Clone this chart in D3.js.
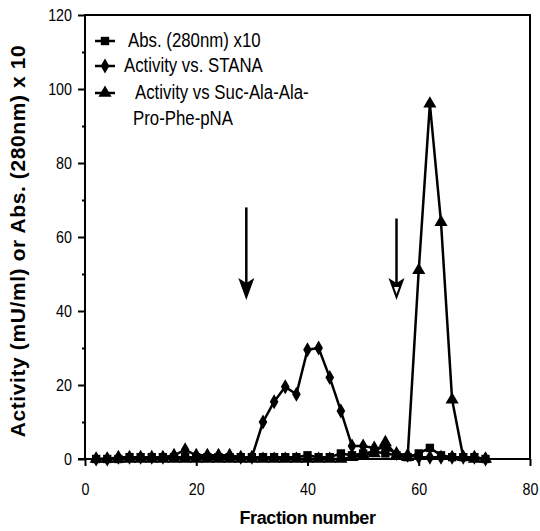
<!DOCTYPE html>
<meta charset="utf-8">
<style>
body { margin: 0; background: #fff; }
text { font-family: "Liberation Sans", Arial, Helvetica, sans-serif; fill: #000; }
.title { font-weight: bold; }
.line { fill: none; stroke: #000; stroke-width: 2.5px; stroke-linejoin: round; }
</style>
<body>
<script src="https://d3js.org/d3.v7.min.js"></script>
<script>

// fractions sampled every 2
var fractions = [2, 4, 6, 8, 10, 12, 14, 16, 18, 20, 22, 24, 26, 28, 30, 32, 34, 36,
                 38, 40, 42, 44, 46, 48, 50, 52, 54, 56, 58, 60, 62, 64, 66, 68, 70, 72];

// Abs. (280nm) x10
var absorbance = [0, 0, 0, 0.5, 0.5, 0.5, 0.5, 0.5, 0.5, 0.5, 0.5, 0.5, 0.5, 0.5, 0.5, 0.5, 0.5, 0.5,
                  0.5, 1, 0.5, 0.5, 1.5, 1, 1.5, 2, 1.5, 1, 0.5, 1.5, 3, 1, 0.5, 0.5, 0.5, 0];

// Activity vs. STANA
var stana = [0, 0, 0.5, 0.5, 0.5, 0.5, 0.5, 1, 2.5, 1, 1, 1, 1, 0.5, 0.5, 10, 15.5, 19.5,
             17.5, 29.5, 30, 22, 13, 3.5, 3.5, 3, 3, 1.5, 1, 0.5, 0.5, 0.5, 0.5, 0.5, 0.5, 0];

// Activity vs Suc-Ala-Ala-Pro-Phe-pNA
var sucAAPF = [0, 0, 0, 0, 0, 0, 0, 0, 0, 0, 0, 0, 0, 0, 0, 0, 0, 0,
               0, 0, 0, 0, 0, 0.5, 1, 1.5, 4.5, 1, 0.5, 51, 96, 64, 16, 0.5, 0, 0];

var legendLabels = ["Abs. (280nm) x10", "Activity vs. STANA", "Activity vs Suc-Ala-Ala-", "Pro-Phe-pNA"];
var xTicks = [0, 20, 40, 60, 80];
var yTicks = [0, 20, 40, 60, 80, 100, 120];

// arrows: fraction, top value, tip value
var arrows = [
  {fraction: 29, from: 68, to: 43, open: false},
  {fraction: 56, from: 65, to: 43, open: true}
];

var width = 540, height = 531;
var margin = {top: 15, right: 10, bottom: 72, left: 85};
var w = width - margin.left - margin.right,
    h = height - margin.top - margin.bottom;

var x = d3.scaleLinear().domain([0, 80]).range([0, w]);
var y = d3.scaleLinear().domain([0, 120]).range([h, 0]);

var svg = d3.select("body").append("svg")
    .attr("width", width)
    .attr("height", height)
  .append("g")
    .attr("transform", "translate(" + margin.left + "," + margin.top + ")");

// frame
svg.append("rect")
    .attr("x", 0).attr("y", 0)
    .attr("width", w).attr("height", h)
    .attr("fill", "none")
    .attr("stroke", "#000")
    .attr("stroke-width", 2);

// axes
var xAxis = svg.append("g")
    .attr("transform", "translate(0," + h + ")")
    .call(d3.axisBottom(x).tickValues(xTicks).tickSize(7).tickPadding(17));
var yAxis = svg.append("g")
    .call(d3.axisLeft(y).tickValues(yTicks).tickSize(7).tickPadding(6));
svg.append("g")
    .call(d3.axisLeft(y).tickValues(d3.range(10, 120, 20)).tickSize(3).tickFormat(""));

[xAxis, yAxis].forEach(function(a) {
  a.selectAll("text")
      .attr("class", "narrow")
      .attr("font-size", "17px")
      .style("font-family", null);
});
svg.selectAll(".tick line").attr("stroke", "#000").attr("stroke-width", 2);
svg.selectAll(".domain").remove();
// y=0 tick crosses the axis
svg.append("line")
    .attr("x1", -7).attr("x2", 6)
    .attr("y1", y(0)).attr("y2", y(0))
    .attr("stroke", "#000").attr("stroke-width", 2);

// axis titles
svg.append("text")
    .attr("class", "title")
    .attr("text-anchor", "middle")
    .attr("font-size", "18px")
    .attr("letter-spacing", "-0.4")
    .attr("transform", "translate(" + (w / 2) + "," + (h + 65) + ")")
    .text("Fraction number");

svg.append("text")
    .attr("class", "title")
    .attr("text-anchor", "middle")
    .attr("font-size", "21px")
    .attr("letter-spacing", "0.6")
    .attr("transform", "translate(" + -60 + "," + (h / 2 + 4) + ")rotate(-90)")
    .text("Activity (mU/ml) or Abs. (280nm) x 10");

// marker shapes
var sym = {
  square: d3.symbol().type(d3.symbolSquare).size(70),
  diamond: d3.symbol().type(d3.symbolDiamond).size(65),
  triangle: d3.symbol().type(d3.symbolTriangle).size(75)
};

var series = [
  {values: absorbance, shape: "square"},
  {values: stana, shape: "diamond"},
  {values: sucAAPF, shape: "triangle"}
];

var valueLine = d3.line()
    .x(function(d) { return x(d.f); })
    .y(function(d) { return y(d.v); });

series.forEach(function(s) {
  var pts = fractions.map(function(f, i) { return {f: f, v: s.values[i]}; });
  svg.append("path")
      .datum(pts)
      .attr("class", "line")
      .attr("d", valueLine);
  svg.selectAll(null)
      .data(pts)
    .enter().append("path")
      .attr("d", sym[s.shape])
      .attr("fill", "#000")
      .attr("transform", function(d) { return "translate(" + x(d.f) + "," + y(d.v) + ")"; });
});

// arrows
arrows.forEach(function(a) {
  var ax = x(a.fraction), y0 = y(a.from), y1 = y(a.to);
  svg.append("line")
      .attr("x1", ax).attr("x2", ax)
      .attr("y1", y0).attr("y2", y1 - 12)
      .attr("stroke", "#000").attr("stroke-width", 2.5);
  svg.append("path")
      .attr("d", "M" + (ax - 8) + "," + (y1 - 22) + "L" + ax + "," + (y1 - 17) +
                 "L" + (ax + 8) + "," + (y1 - 22) + "L" + ax + "," + y1 + "Z")
      .attr("fill", "#000");
  if (a.open) {
    svg.append("path")
        .attr("d", "M" + (ax - 2.5) + "," + (y1 - 13) + "L" + (ax + 2.5) + "," + (y1 - 13) +
                   "L" + ax + "," + (y1 - 6) + "Z")
        .attr("fill", "#fff");
  }
});

// legend
var legendRows = [
  {shape: "square", ty: 32, tx: 43},
  {shape: "diamond", ty: 57, tx: 39},
  {shape: "triangle", ty: 84, tx: 50}
];
legendRows.forEach(function(r, i) {
  svg.append("line")
      .attr("x1", 10).attr("x2", 30)
      .attr("y1", r.ty - 6).attr("y2", r.ty - 6)
      .attr("stroke", "#000").attr("stroke-width", 2.5);
  svg.append("path")
      .attr("d", sym[r.shape])
      .attr("fill", "#000")
      .attr("transform", "translate(20," + (r.ty - 6) + ")");
  svg.append("text")
      .attr("class", "narrow")
      .attr("x", r.tx).attr("y", r.ty)
      .attr("font-size", "20px")
      .text(legendLabels[i]);
});
svg.append("text")
    .attr("class", "narrow")
    .attr("x", 48).attr("y", 110)
    .attr("font-size", "20px")
    .text(legendLabels[3]);

// the original type is a condensed Helvetica: squeeze glyphs horizontally
svg.selectAll("text.narrow").each(function() {
  var len = this.getComputedTextLength();
  d3.select(this)
      .attr("textLength", len * 0.84)
      .attr("lengthAdjust", "spacingAndGlyphs");
});

</script>
</body>
</html>
